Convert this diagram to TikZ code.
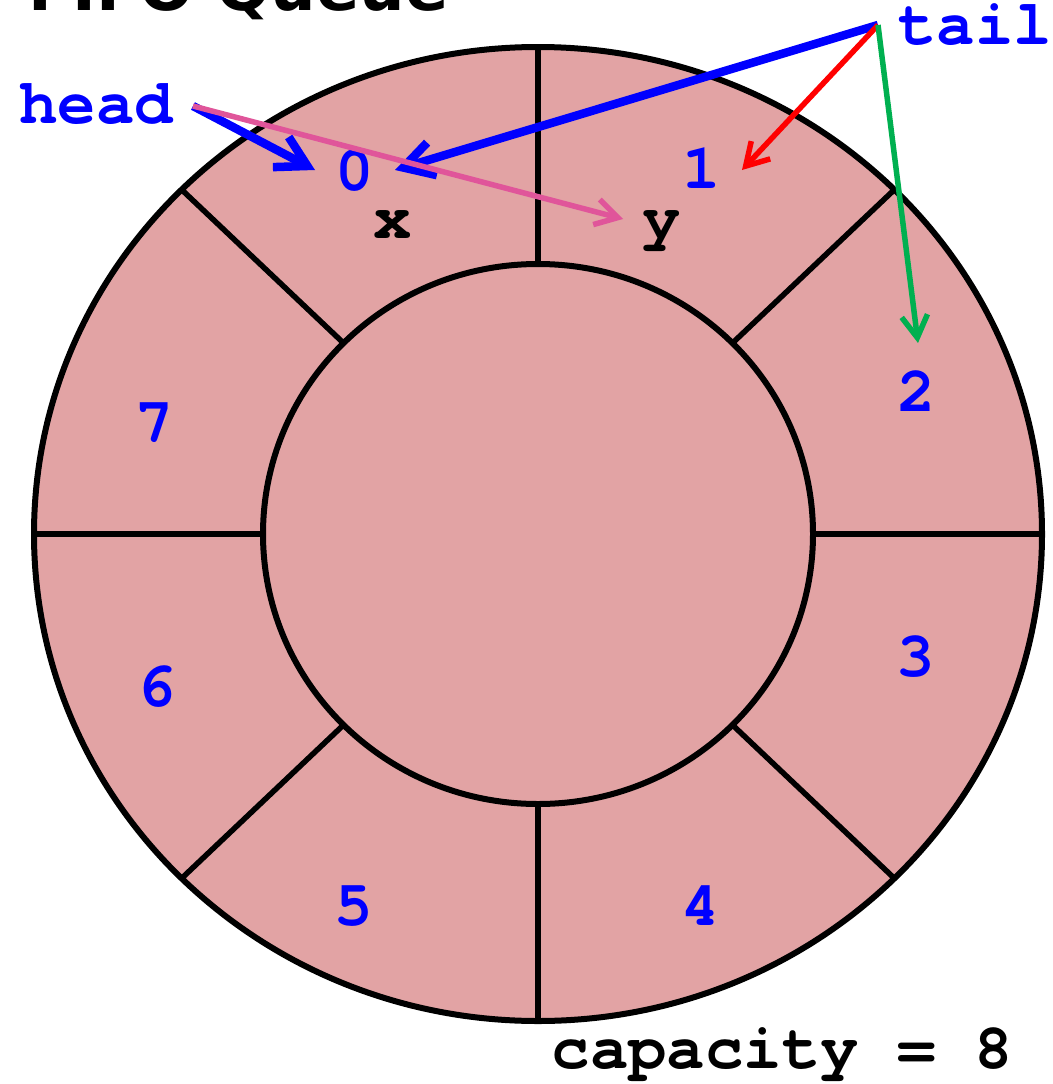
\documentclass[tikz,border=0pt]{standalone}
\usepackage{fontspec}
\setmonofont{TeX Gyre Cursor}
\newfontfamily\titlefam{DejaVu Sans}
\usetikzlibrary{arrows.meta,calc}
\definecolor{ringfill}{HTML}{E2A3A4}
\definecolor{ptrblue}{HTML}{0000FF}
\definecolor{ptrpink}{HTML}{E0559A}
\definecolor{ptrred}{HTML}{FF0000}
\definecolor{ptrgreen}{HTML}{00B050}
\tikzset{
  ring/.style={draw=black, line width=6pt},
  divider/.style={draw=black, line width=5.5pt},
  idx/.style={anchor=base, text=ptrblue, font=\fontsize{64}{64}\selectfont\ttfamily\bfseries, inner sep=0pt},
  val/.style={anchor=base, text=black, font=\fontsize{64}{64}\selectfont\ttfamily\bfseries, inner sep=0pt},
  ptrlabel/.style={anchor=base, text=ptrblue, font=\fontsize{64}{64}\selectfont\ttfamily\bfseries, inner sep=0pt},
  thickptr/.style={line width=8.5pt, -{Straight Barb[length=30pt,width=34pt]}},
  thinptr/.style={line width=5.5pt, -{Straight Barb[length=22pt,width=26pt]}},
}
\begin{document}
\begin{tikzpicture}[x=1pt,y=-1pt]
\useasboundingbox (0,0) rectangle (1052,1084);
% title (mostly cut off)
\node[anchor=base east, inner sep=0pt, font=\fontsize{64}{64}\selectfont\titlefam\bfseries] (title) at (449,10) {FIFO Queue};
% ring
\coordinate (c) at (538,534);
\fill[ringfill] (c) ellipse [x radius=504, y radius=487];
\draw[ring] (c) ellipse [x radius=504, y radius=487];
\draw[ring] (c) ellipse [x radius=275, y radius=270];
\foreach \a in {0,45,...,315} {
  \draw[divider] ($(c)+({275*cos(\a)},{-270*sin(\a)})$) -- ($(c)+({504*cos(\a)},{-487*sin(\a)})$);
}
% indices
\node[idx] (i0) at (355,190) {0};
\node[idx] (i1) at (702,188) {1};
\node[idx] (i2) at (917,411) {2};
\node[idx] (i3) at (916,676) {3};
\node[idx] (i4) at (701,925) {4};
\node[idx] (i5) at (354,925) {5};
\node[idx] (i6) at (157,706) {6};
\node[idx] (i7) at (155,442) {7};
% values
\node[val] (vx) at (393,238) {x};
\node[val] (vy) at (662,238) {y};
% pointer labels
\node[ptrlabel] (head) at (96,123) {head};
\node[ptrlabel] (tail) at (975,44) {tail};
\node[val] (cap) at (782,1068) {capacity = 8};
% pointer coordinates
\coordinate (hs) at (193,106);
\coordinate (ts) at (878,25);
\coordinate (h0) at (315,170);
\coordinate (hy) at (623,219);
\coordinate (t0) at (395,170);
\coordinate (t1) at (742,170);
\coordinate (t2) at (918,343);
% arrows
\draw[thickptr, draw=ptrblue] (hs) -- (h0);
\draw[thickptr, draw=ptrblue] (ts) -- (t0);
\draw[thinptr, draw=ptrpink] (hs) -- (hy);
\draw[thinptr, draw=ptrred] (ts) -- (t1);
\draw[thinptr, draw=ptrgreen] (ts) -- (t2);
\end{tikzpicture}
\end{document}
